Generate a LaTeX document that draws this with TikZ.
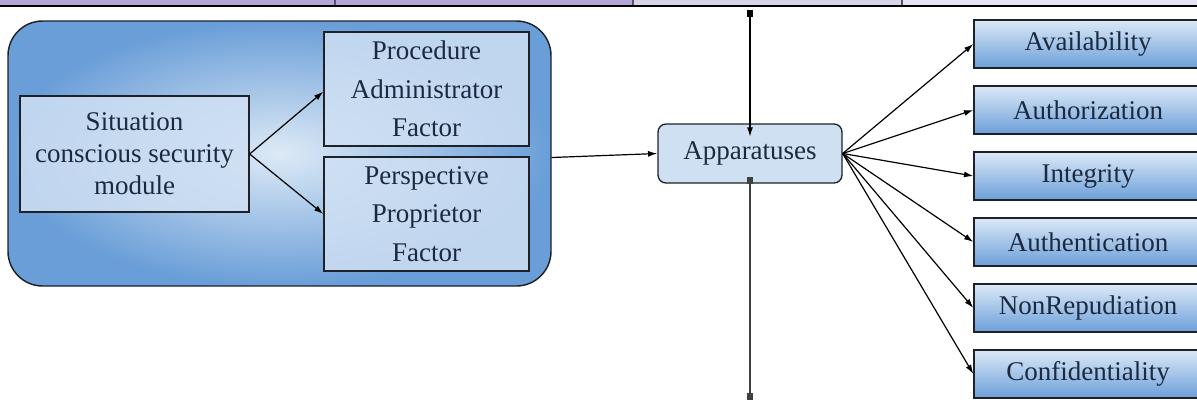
\documentclass[tikz,border=0pt]{standalone}
\usepackage{fontspec}
\setmainfont{Liberation Serif}
\newfontfamily\labelfont{Liberation Serif}
\usetikzlibrary{arrows.meta}

\definecolor{ink}{HTML}{1C2A3F}
\definecolor{edge}{HTML}{1E2228}
\definecolor{barA}{HTML}{B3A7D8}
\definecolor{barB}{HTML}{D9D3E8}
\definecolor{barC}{HTML}{E7E3F5}
\definecolor{barrule}{HTML}{5C5270}
\definecolor{paleblue}{HTML}{CFE0F3}
\definecolor{panelin}{HTML}{DDEAF6}
\definecolor{panelout}{HTML}{6A9ED8}
\definecolor{gradtop}{HTML}{DCE9F7}
\definecolor{gradbot}{HTML}{6C9FD9}

\tikzset{
  txt/.style={font=\labelfont\fontsize{20.25}{24}\selectfont, text=ink, align=center, inner sep=0pt},
  innerbox/.style={txt, draw=edge, line width=1pt, fill=paleblue, fill opacity=0.85, text opacity=1},
  factorbox/.style={innerbox, minimum width=153.75pt, minimum height=85.5pt,
    font=\labelfont\fontsize{20.25}{29}\selectfont},
  propbox/.style={txt, draw=edge, line width=1pt, top color=gradtop, bottom color=gradbot,
    minimum width=171pt, minimum height=36pt},
  link/.style={draw=black, line width=0.9pt, -{Latex[length=7pt,width=4.5pt]}},
}

\begin{document}
\begin{tikzpicture}[x=0.75pt, y=-0.75pt]
\useasboundingbox (0,0) rectangle (1197,401);

% strip along the top edge
\fill[barA] (0,0) rectangle (633,6);
\fill[barB] (633,0) rectangle (902,6);
\fill[barC] (902,0) rectangle (1197,6);
\draw[barrule, line width=1pt] (335,0) -- (335,6);
\draw[barrule, line width=1pt] (633,0) -- (633,6);
\draw[barrule, line width=1pt] (902,0) -- (902,6);
\draw[black, line width=1.2pt] (0,6) -- (1197,6);

% context-aware security panel
\node[draw=edge, line width=1.1pt, rounded corners=26pt,
      inner color=panelin, outer color=panelout,
      minimum width=407.25pt, minimum height=198.75pt] (panel) at (279.5,153.5) {};

\node[innerbox, minimum width=171.75pt, minimum height=87pt] (sit) at (134.5,154)
  {Situation\\conscious security\\module};
\node[factorbox] (proc) at (426.5,89) {Procedure\\Administrator\\Factor};
\node[factorbox] (pers) at (426.5,214) {Perspective\\Proprietor\\Factor};

\draw[link] (sit.east) -- ([yshift=-2pt]proc.west);
\draw[link] (sit.east) -- (pers.west);

% central node
\node[txt, draw=edge, line width=1pt, fill=paleblue, rounded corners=6pt,
      minimum width=138pt, minimum height=44.25pt] (app) at (750,153.5) {Apparatuses};

\draw[link] ([yshift=-3pt]panel.east) -- (app.west);

% vertical feed lines
\coordinate (topend) at (750,10);
\coordinate (botend) at (750,400);
\draw[draw=black, line width=0.9pt, {Square[length=5pt,width=4pt]}-{Latex[length=7pt,width=4.5pt]}]
  (topend) -- ([yshift=-10pt]app.north);
\draw[draw=black!75, line width=1.3pt, {Square[length=5pt,width=4pt]}-{Square[length=5pt,width=4pt]}]
  ([yshift=5pt]app.south) -- (botend);

% security properties
\foreach \name/\lab/\yy in {av/Availability/44, au/Authorization/110, in/Integrity/176,
    at/Authentication/242, nr/NonRepudiation/308, co/Confidentiality/374}{
  \node[propbox] (\name) at (1088,\yy) {\lab};
  \draw[link] (app.east) -- (\name.west);
}
\end{tikzpicture}
\end{document}
